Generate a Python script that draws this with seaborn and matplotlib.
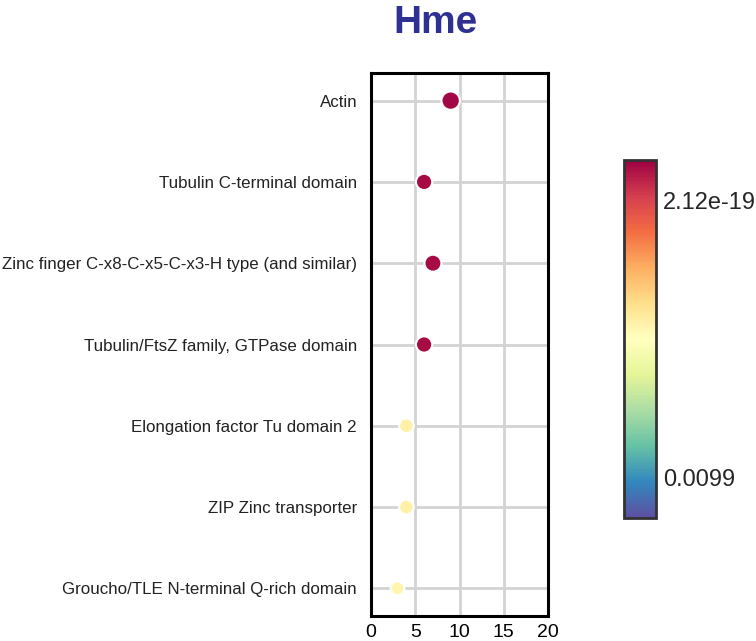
import numpy as np
import pandas as pd
import seaborn as sns
import matplotlib.pyplot as plt
from matplotlib.cm import ScalarMappable
from matplotlib.colors import Normalize

# domain terms, hit counts and p-values
terms = ['Actin',
         'Tubulin C-terminal domain',
         'Zinc finger C-x8-C-x5-C-x3-H type (and similar)',
         'Tubulin/FtsZ family, GTPase domain',
         'Elongation factor Tu domain 2',
         'ZIP Zinc transporter',
         'Groucho/TLE N-terminal Q-rich domain']
counts = [9, 6, 7, 6, 4, 4, 3]
pvals = [1.5e-21, 2e-21, 2e-21, 2e-21, 5e-12, 5e-12, 9e-12]

cbar_ticks = [2.12e-19, 0.0099]
cbar_labels = ['2.12e-19', '0.0099']

df = pd.DataFrame({'term': terms, 'count': counts, 'p': pvals})
df['score'] = -np.log10(df['p'])

sns.set_style('white')
plt.rcParams['font.family'] = ['Liberation Sans', 'DejaVu Sans']

vmin, vmax = -0.4, 21.1

fig = plt.figure(figsize=(7.56, 6.41), dpi=100)
ax = fig.add_axes([371 / 756, 1 - 616 / 641, 177 / 756, 543 / 641])

sns.scatterplot(data=df, x='count', y='term', hue='score', palette='Spectral_r',
                hue_norm=(vmin, vmax), size='count', sizes=(100, 175),
                edgecolor='white', linewidth=1.5, legend=False, zorder=3, ax=ax)

ax.set_xlim(0, 20)
ax.set_ylim(len(terms) - 1 + 0.34, -0.34)
ax.set_xticks([0, 5, 10, 15, 20])
ax.grid(True, color='#d3d3d3', linewidth=2, zorder=0)
ax.set_axisbelow(True)
ax.set_xlabel('')
ax.set_ylabel('')
ax.tick_params(axis='x', labelsize=14, length=0, pad=6, colors='black')
ax.tick_params(axis='y', labelsize=12.2, length=0, pad=10, colors='#222222')
for s in ax.spines.values():
    s.set_color('black')
    s.set_linewidth(2.2)

fig.text(436 / 756, 1 - 23 / 641, 'Hme', ha='center', va='center',
         fontsize=28, fontweight='bold', color='#2e3192')

cax = fig.add_axes([624 / 756, 1 - 518 / 641, 32 / 756, 358 / 641])
sm = ScalarMappable(norm=Normalize(vmin, vmax), cmap='Spectral_r')
cb = fig.colorbar(sm, cax=cax)
cb.set_ticks(-np.log10(cbar_ticks))
cb.set_ticklabels(cbar_labels)
cb.ax.tick_params(length=0, labelsize=17, pad=5)
cb.outline.set_edgecolor('#333333')
cb.outline.set_linewidth(2)

fig.savefig('out.png', dpi=100)
